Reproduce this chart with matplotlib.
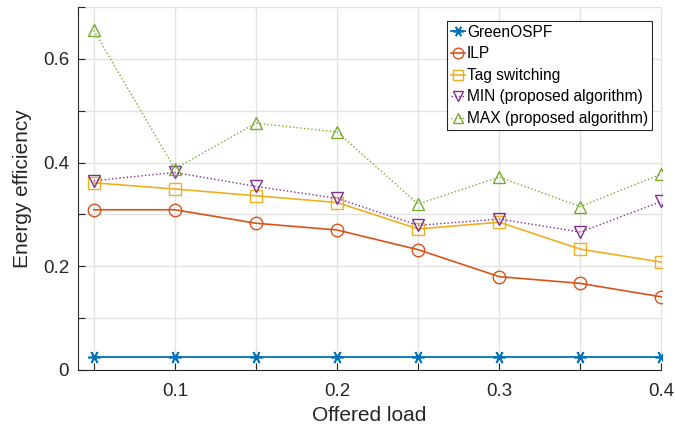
import matplotlib
matplotlib.use("Agg")
import matplotlib.pyplot as plt
import numpy as np

load = [0.05, 0.1, 0.15, 0.2, 0.25, 0.3, 0.35, 0.4]
green_ospf = [0.026, 0.026, 0.026, 0.026, 0.026, 0.026, 0.026, 0.026]
ilp = [0.309, 0.309, 0.283, 0.270, 0.232, 0.180, 0.167, 0.141]
tag = [0.361, 0.349, 0.336, 0.323, 0.272, 0.285, 0.233, 0.208]
min_alg = [0.365, 0.381, 0.354, 0.331, 0.279, 0.291, 0.266, 0.325]
max_alg = [0.655, 0.388, 0.476, 0.459, 0.320, 0.372, 0.315, 0.378]

labels = ["GreenOSPF", "ILP", "Tag switching", "MIN (proposed algorithm)", "MAX (proposed algorithm)"]

plt.rcParams['font.family'] = ['Liberation Sans', 'DejaVu Sans']

fig = plt.figure(figsize=(6.75, 4.32), dpi=100)
L, R, B, T = 77.5, 661.5, 62, 425
ax = fig.add_axes([L / 675, B / 432, (R - L) / 675, (T - B) / 432])

ax.plot(load, green_ospf, color='#0072BD', marker=(6, 2, 90), ms=9, mew=1.2, lw=1.3, label=labels[0])
ax.plot(load, ilp, color='#D95319', marker='o', ms=9, mfc='none', lw=1.2, label=labels[1])
ax.plot(load, tag, color='#EDB120', marker='s', ms=8, mfc='none', lw=1.2, label=labels[2])
ax.plot(load, min_alg, color='#7E2F8E', marker='v', ms=9, mfc='none', lw=1.0, ls=':', label=labels[3])
ax.plot(load, max_alg, color='#77AC30', marker='^', ms=9, mfc='none', lw=1.0, ls=':', label=labels[4])

ax.set_xlim(0.04, 0.4)
ax.set_ylim(0, 0.7)
ax.set_xticks(np.arange(0.05, 0.401, 0.05))
ax.set_xticklabels(['', '0.1', '', '0.2', '', '0.3', '', '0.4'])
ax.set_yticks(np.arange(0, 0.701, 0.1))
ax.set_yticklabels(['0', '', '0.2', '', '0.4', '', '0.6', ''])
ax.grid(True, color='#e3e3e3', lw=1)
ax.set_axisbelow(True)
ax.tick_params(direction='in', length=5, colors='#262626', labelsize=13.5)
ax.tick_params(axis='x', pad=9)
ax.tick_params(axis='y', pad=6)
for s in ['top', 'right']:
    ax.spines[s].set_visible(False)
for s in ['left', 'bottom']:
    ax.spines[s].set_color('#262626')
ax.set_xlabel('Offered load', fontsize=15, color='#262626', labelpad=5)
ax.set_ylabel('Energy efficiency', fontsize=15, color='#262626', labelpad=8)

leg = ax.legend(loc='upper right', bbox_to_anchor=((652 - L) / (R - L), 1 - 14 / (T - B)),
                fontsize=11.2, frameon=True,
                fancybox=False, edgecolor='#262626', framealpha=1, handlelength=0.9,
                handletextpad=0.15, borderpad=0.25, labelspacing=0.42, borderaxespad=0,
                markerscale=0.85)
leg.get_frame().set_linewidth(0.8)

fig.savefig('out.png', dpi=100)
